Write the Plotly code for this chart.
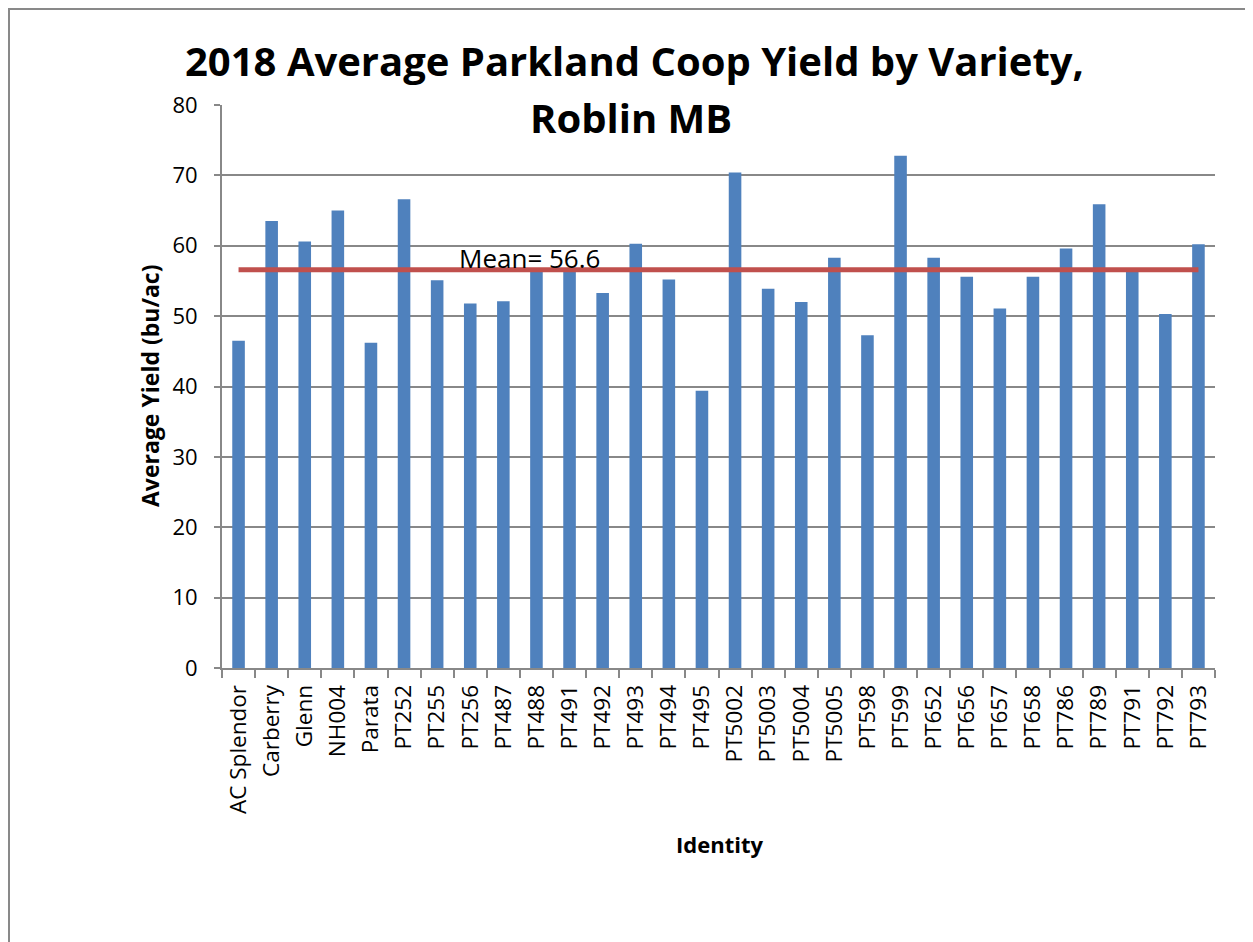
import plotly.graph_objects as go

# ---- data ----
varieties = ["AC Splendor", "Carberry", "Glenn", "NH004", "Parata", "PT252", "PT255", "PT256",
             "PT487", "PT488", "PT491", "PT492", "PT493", "PT494", "PT495", "PT5002", "PT5003",
             "PT5004", "PT5005", "PT598", "PT599", "PT652", "PT656", "PT657", "PT658", "PT786",
             "PT789", "PT791", "PT792", "PT793"]
avg_yield = [46.5, 63.5, 60.6, 65.0, 46.2, 66.6, 55.1, 51.8,
             52.1, 56.7, 56.8, 53.3, 60.3, 55.2, 39.4, 70.4, 53.9,
             52.0, 58.3, 47.3, 72.8, 58.3, 55.6, 51.1, 55.6, 59.6,
             65.9, 56.5, 50.3, 60.2]
mean_value = 56.6
y_ticks = [0, 10, 20, 30, 40, 50, 60, 70, 80]

title_line1 = "2018 Average Parkland Coop Yield by Variety,"
title_line2 = "Roblin MB"
x_title = "Identity"
y_title = "Average Yield (bu/ac)"

# ---- layout geometry (page has an 8px body margin) ----
OFF = 8
W, H = 1253 - OFF, 942 - OFF
L, R, T, B = 214, 38, 97, 274
PW = W - L - R
PH = H - T - B


def px(xp):
    """page x pixel -> paper x"""
    return (xp - OFF - L) / PW


def py(yp):
    """page y pixel -> paper y"""
    return (H - B - (yp - OFF)) / PH


FONT = "'Open Sans', Lato, sans-serif"
GRID = "#888888"
BAR = "#4F81BD"
RED = "#C0504D"

fig = go.Figure()
fig.add_trace(go.Bar(x=varieties, y=avg_yield, marker=dict(color=BAR, line=dict(width=0)),
                     showlegend=False, hoverinfo="x+y"))
fig.add_trace(go.Scatter(x=varieties, y=[mean_value] * len(varieties), mode="lines",
                         line=dict(color=RED, width=5), showlegend=False, hoverinfo="skip"))

annotations = [
    dict(text="<b>%s</b>" % title_line1, xref="paper", yref="paper", x=px(634), y=py(60),
         xanchor="center", yanchor="middle", showarrow=False,
         font=dict(family=FONT, size=40, color="black")),
    dict(text="<b>%s</b>" % title_line2, xref="paper", yref="paper", x=px(631), y=py(117),
         xanchor="center", yanchor="middle", showarrow=False,
         font=dict(family=FONT, size=40, color="black")),
    dict(text="<b>%s</b>" % y_title, xref="paper", yref="paper", x=px(150), y=py(386),
         xanchor="center", yanchor="middle", textangle=-90, showarrow=False,
         font=dict(family=FONT, size=23, color="black")),
    dict(text="<b>%s</b>" % x_title, xref="paper", yref="paper", x=px(719), y=py(844),
         xanchor="center", yanchor="middle", showarrow=False,
         font=dict(family=FONT, size=22, color="black")),
    dict(text="Mean= %.1f" % mean_value, xref="x", yref="y", x=8.8, y=mean_value,
         xanchor="center", yanchor="bottom", yshift=-8, showarrow=False,
         font=dict(family=FONT, size=26, color="black")),
]

shapes = [
    dict(type="line", xref="paper", yref="paper", x0=px(8), x1=px(1253 + 5), y0=py(9), y1=py(9),
         line=dict(color="#898989", width=2)),
    dict(type="line", xref="paper", yref="paper", x0=px(9), x1=px(9), y0=py(8), y1=py(942 + 5),
         line=dict(color="#898989", width=2)),
]

fig.update_layout(
    width=W, height=H,
    margin=dict(l=L, r=R, t=T, b=B, autoexpand=False),
    paper_bgcolor="white", plot_bgcolor="white",
    bargap=0.62,
    font=dict(family=FONT, size=22, color="black"),
    annotations=annotations,
    shapes=shapes,
    xaxis=dict(
        type="category", tickangle=-90, tickson="boundaries", ticks="outside", ticklen=8,
        tickcolor=GRID, tickwidth=2, showline=True, linecolor=GRID, linewidth=2,
        showgrid=False, tickfont=dict(family=FONT, size=22.5, color="black"),
        ticklabelstandoff=6, automargin=False, range=[-0.5, len(varieties) - 0.5],
    ),
    yaxis=dict(
        range=[0, 80], tickvals=y_ticks, ticks="outside", ticklen=6, tickcolor=GRID, tickwidth=2,
        showline=True, linecolor=GRID, linewidth=2, showgrid=True, gridcolor=GRID, gridwidth=2,
        zeroline=False, tickfont=dict(family=FONT, size=22, color="black"),
        ticklabelstandoff=12, automargin=False,
    ),
)

fig.write_html("out.html")
